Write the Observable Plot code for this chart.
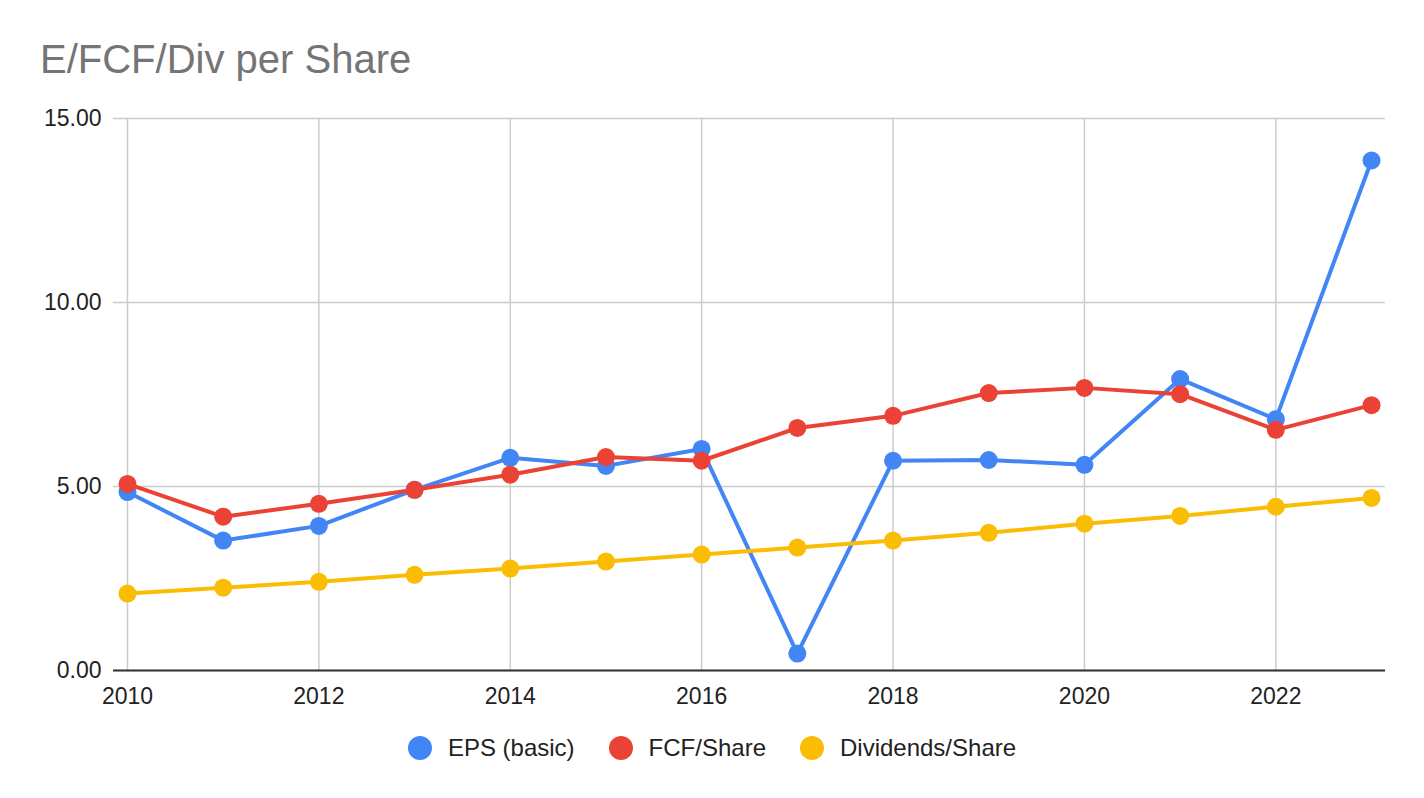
<!DOCTYPE html>
<html>
<head>
<meta charset="utf-8">
<script src="https://cdn.jsdelivr.net/npm/d3@7"></script>
<script src="https://cdn.jsdelivr.net/npm/@observablehq/plot@0.6"></script>
<style>
  html, body { margin: 0; padding: 0; background: #fff; }
  body { width: 1424px; height: 798px; overflow: hidden; position: relative; font-family: "Liberation Sans", Arial, sans-serif; }
  #title { height: 100px; position: relative; }
  #title span { position: absolute; left: 40px; top: 39px; font-size: 40px; color: #757575; line-height: 1; white-space: nowrap; }
  #chart svg { display: block; }
  #legend { position: absolute; left: 0; top: 728px; width: 1424px; height: 40px; display: flex; justify-content: center; align-items: center; font-size: 24px; color: #222; }
  .item { display: flex; align-items: center; margin: 0 17px; }
  .sw { width: 24px; height: 24px; border-radius: 50%; margin-right: 16px; }
</style>
</head>
<body>
<div id="title"><span>E/FCF/Div per Share</span></div>
<div id="chart"></div>
<div id="legend"></div>
<script>
const years = [2010, 2011, 2012, 2013, 2014, 2015, 2016, 2017, 2018, 2019, 2020, 2021, 2022, 2023];
const eps = [4.85, 3.53, 3.93, 4.91, 5.78, 5.56, 6.02, 0.46, 5.70, 5.72, 5.59, 7.92, 6.83, 13.86];
const fcf = [5.07, 4.18, 4.53, 4.91, 5.32, 5.80, 5.70, 6.59, 6.92, 7.54, 7.68, 7.51, 6.54, 7.21];
const div = [2.09, 2.25, 2.41, 2.60, 2.77, 2.96, 3.15, 3.34, 3.53, 3.74, 3.99, 4.20, 4.45, 4.69];
const seriesNames = ["EPS (basic)", "FCF/Share", "Dividends/Share"];
const seriesColors = ["#4285F4", "#EA4335", "#FBBC04"];
const yTicks = [0, 5, 10, 15];
const xTicks = [2010, 2012, 2014, 2016, 2018, 2020, 2022];

const values = [eps, fcf, div];
const data = [];
values.forEach((arr, s) => arr.forEach((v, i) => data.push({year: years[i], value: v, series: seriesNames[s]})));

const chart = Plot.plot({
  width: 1424,
  height: 620,
  marginTop: 18,
  marginBottom: 50,
  marginLeft: 113,
  marginRight: 39,
  style: { fontFamily: '"Liberation Sans", Arial, sans-serif', fontSize: "23px", color: "#222", background: "#fff" },
  x: { domain: [2009.854, 2023.146], label: null },
  y: { domain: [0, 15], label: null },
  color: { domain: seriesNames, range: seriesColors },
  marks: [
    Plot.gridY(yTicks, { stroke: "#cccccc", strokeOpacity: 1, strokeWidth: 1.5 }),
    Plot.gridX(xTicks, { stroke: "#cccccc", strokeOpacity: 1, strokeWidth: 1.5 }),
    Plot.axisX(xTicks, { tickSize: 0, tickPadding: 17, tickFormat: d => String(d), fill: "#222", fontSize: 23, label: null }),
    Plot.axisY(yTicks, { tickSize: 0, tickPadding: 12, tickFormat: d3.format(".2f"), fill: "#222", fontSize: 23, label: null }),
    Plot.ruleY([0], { stroke: "#333", strokeWidth: 2.2 }),
    Plot.line(data, { x: "year", y: "value", z: "series", stroke: "series", strokeWidth: 4 }),
    Plot.dot(data, { x: "year", y: "value", fill: "series", r: 9, stroke: null })
  ]
});
document.getElementById("chart").appendChild(chart);

const legend = document.getElementById("legend");
seriesNames.forEach((n, i) => {
  const it = document.createElement("div");
  it.className = "item";
  it.innerHTML = `<div class="sw" style="background:${seriesColors[i]}"></div><span>${n}</span>`;
  legend.appendChild(it);
});
</script>
</body>
</html>
